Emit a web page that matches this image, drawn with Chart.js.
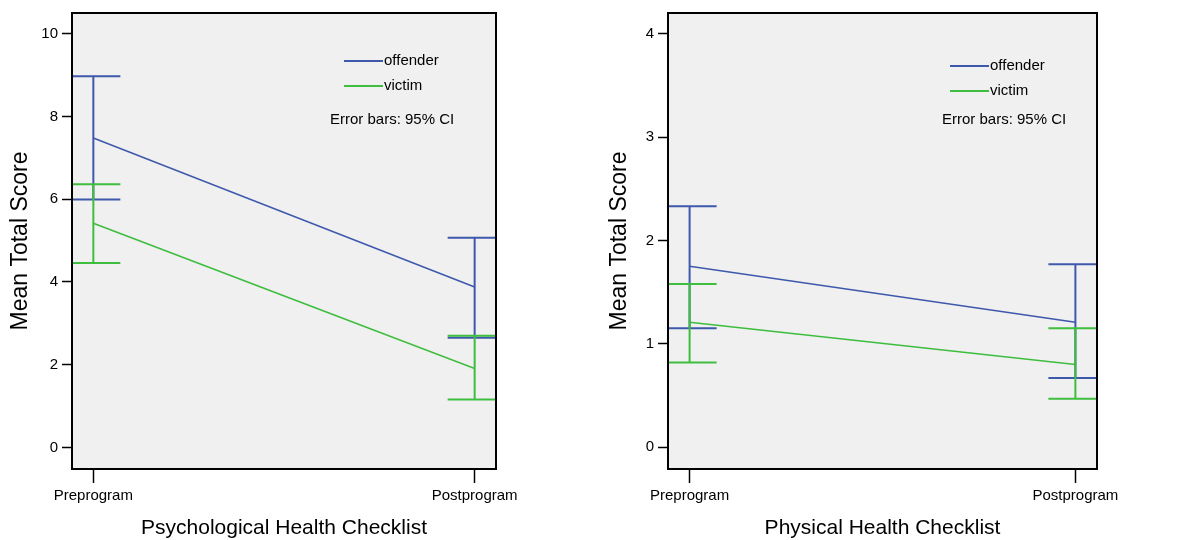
<!DOCTYPE html>
<html>
<head>
<meta charset="utf-8">
<script src="https://cdn.jsdelivr.net/npm/chart.js@4/dist/chart.umd.min.js"></script>
<style>
  body { margin: 0; background: #fff; }
  .panel { position: absolute; top: 0; width: 599px; height: 540px; }
</style>
</head>
<body>
<div class="panel" style="left:0"><canvas id="psychChart" width="599" height="540"></canvas></div>
<div class="panel" style="left:599px"><canvas id="physChart" width="599" height="540"></canvas></div>
<script>
const categories = ['Preprogram', 'Postprogram'];
const groupNames = ['offender', 'victim'];

// Psychological Health Checklist: means and 95% CI bounds
const psychOffender = [7.48, 3.88];
const psychOffenderLow = [5.99, 2.65];
const psychOffenderHigh = [8.97, 5.07];
const psychVictim = [5.42, 1.91];
const psychVictimLow = [4.46, 1.16];
const psychVictimHigh = [6.36, 2.70];
const psychTicks = [0, 2, 4, 6, 8, 10];

// Physical Health Checklist
const physOffender = [1.75, 1.21];
const physOffenderLow = [1.15, 0.67];
const physOffenderHigh = [2.33, 1.77];
const physVictim = [1.21, 0.80];
const physVictimLow = [0.82, 0.47];
const physVictimHigh = [1.58, 1.15];
const physTicks = [0, 1, 2, 3, 4];

const BLUE = '#3e58ac';
const GREEN = '#3ebd3e';

Chart.defaults.font.family = "'Liberation Sans', Arial, sans-serif";
Chart.defaults.color = '#000';

// grey plot area, black frame, CI bars, inner legend
const frameAndBars = {
    id: 'frameAndBars',
    beforeDatasetsDraw(chart) {
        const a = chart.chartArea;
        const ctx = chart.ctx;
        ctx.save();
        ctx.fillStyle = '#f0f0f0';
        ctx.fillRect(a.left, a.top, a.right - a.left, a.bottom - a.top);
        ctx.restore();
    },
    afterDatasetsDraw(chart, args, opts) {
        const a = chart.chartArea;
        const ctx = chart.ctx;
        const xs = chart.scales.x, ys = chart.scales.y;
        ctx.save();
        ctx.beginPath();
        ctx.rect(a.left, a.top, a.right - a.left, a.bottom - a.top);
        ctx.clip();
        ctx.lineWidth = 2;
        chart.data.datasets.forEach(ds => {
            ctx.strokeStyle = ds.borderColor;
            ds.low.forEach((lo, j) => {
                const x = xs.getPixelForValue(j);
                const y1 = ys.getPixelForValue(lo);
                const y2 = ys.getPixelForValue(ds.high[j]);
                ctx.beginPath();
                ctx.moveTo(x, y1); ctx.lineTo(x, y2);
                ctx.moveTo(x - 27, y1); ctx.lineTo(x + 27, y1);
                ctx.moveTo(x - 27, y2); ctx.lineTo(x + 27, y2);
                ctx.stroke();
            });
        });
        ctx.restore();

        // legend
        ctx.save();
        ctx.font = "15px 'Liberation Sans', Arial, sans-serif";
        ctx.textBaseline = 'middle';
        ctx.fillStyle = '#000';
        chart.data.datasets.forEach((ds, i) => {
            const y = opts.legendY + i * 25;
            ctx.strokeStyle = ds.borderColor;
            ctx.lineWidth = 2;
            ctx.beginPath();
            ctx.moveTo(opts.legendX, y); ctx.lineTo(opts.legendX + 39, y);
            ctx.stroke();
            ctx.fillText(ds.label, opts.legendX + 40, y);
        });
        ctx.fillText('Error bars: 95% CI', opts.noteX, opts.noteY);
        ctx.restore();
    },
    afterDraw(chart) {
        const a = chart.chartArea;
        const ctx = chart.ctx;
        ctx.save();
        ctx.strokeStyle = '#000';
        ctx.lineWidth = 2;
        ctx.strokeRect(a.left, a.top, a.right - a.left, a.bottom - a.top);
        ctx.restore();
    }
};

function makeChart(id, cfg) {
    const toPoints = arr => arr.map((v, i) => ({ x: i, y: v }));
    return new Chart(document.getElementById(id), {
        type: 'line',
        data: {
            datasets: [
                { label: groupNames[0], data: toPoints(cfg.offender), low: cfg.offenderLow, high: cfg.offenderHigh,
                  borderColor: BLUE, borderWidth: 1.5, pointRadius: 0, fill: false },
                { label: groupNames[1], data: toPoints(cfg.victim), low: cfg.victimLow, high: cfg.victimHigh,
                  borderColor: GREEN, borderWidth: 1.5, pointRadius: 0, fill: false }
            ]
        },
        options: {
            responsive: false,
            animation: false,
            layout: { padding: { top: 10, right: cfg.padRight, bottom: 0, left: 0 } },
            plugins: {
                legend: { display: false },
                tooltip: { enabled: false },
                frameAndBars: { legendX: cfg.legendX, legendY: cfg.legendY, noteX: cfg.noteX, noteY: 120 }
            },
            scales: {
                x: {
                    type: 'linear',
                    min: -0.056,
                    max: 1.056,
                    afterBuildTicks: s => { s.ticks = categories.map((c, i) => ({ value: i })); },
                    afterFit: s => { s.height = 71; },
                    ticks: { callback: v => categories[v], font: { size: 15 }, padding: 4, maxRotation: 0, autoSkip: false },
                    grid: { drawOnChartArea: false, tickLength: 14, tickColor: '#000', tickWidth: 1.5 },
                    border: { display: false },
                    title: { display: true, text: cfg.title, font: { size: 21, lineHeight: 1 }, padding: { top: 0, bottom: 1 } }
                },
                y: {
                    min: cfg.yMin,
                    max: cfg.yMax,
                    afterBuildTicks: s => { s.ticks = cfg.ticks.map(v => ({ value: v })); },
                    afterFit: s => { s.width = cfg.left; },
                    ticks: { font: { size: 15 }, padding: 4 },
                    grid: { drawOnChartArea: false, tickLength: 10, tickColor: '#000', tickWidth: 1.5 },
                    border: { display: false },
                    title: { display: true, text: 'Mean Total Score', font: { size: 23, lineHeight: 1.2 }, padding: { top: 7, bottom: 0 } }
                }
            }
        },
        plugins: [frameAndBars]
    });
}

makeChart('psychChart', {
    offender: psychOffender, offenderLow: psychOffenderLow, offenderHigh: psychOffenderHigh,
    victim: psychVictim, victimLow: psychVictimLow, victimHigh: psychVictimHigh,
    ticks: psychTicks, yMin: -0.52, yMax: 10.5,
    title: 'Psychological Health Checklist',
    left: 72, padRight: 103,
    legendX: 344, legendY: 61, noteX: 330
});

makeChart('physChart', {
    offender: physOffender, offenderLow: physOffenderLow, offenderHigh: physOffenderHigh,
    victim: physVictim, victimLow: physVictimLow, victimHigh: physVictimHigh,
    ticks: physTicks, yMin: -0.21, yMax: 4.2,
    title: 'Physical Health Checklist',
    left: 69, padRight: 101,
    legendX: 351, legendY: 66, noteX: 343
});
</script>
</body>
</html>
